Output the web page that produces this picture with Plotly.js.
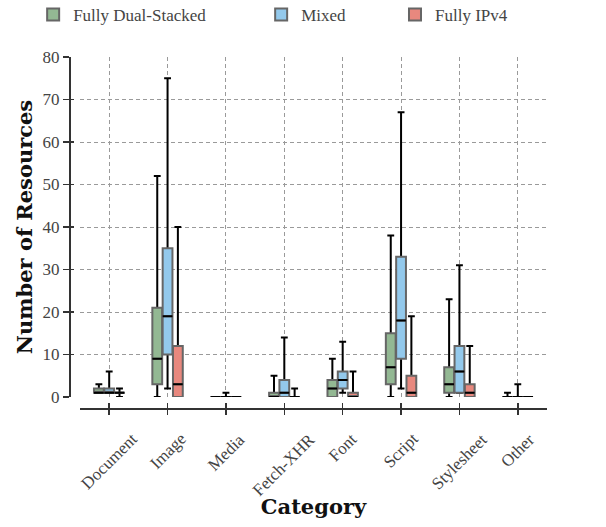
<!DOCTYPE html>
<html>
<head>
<meta charset="utf-8">
<script src="https://cdn.plot.ly/plotly-3.0.1.min.js"></script>
<style>html,body{margin:0;padding:0;background:#fff;}#chart{width:606px;height:527px;}</style>
</head>
<body>
<div id="chart"></div>
<script>
// ---- data ----
const categories = ['Document','Image','Media','Fetch-XHR','Font','Script','Stylesheet','Other'];
const seriesNames = ['Fully Dual-Stacked','Mixed','Fully IPv4'];

const dualLower  = [1, 0, 0, 0, 0, 0, 0, 0];
const dualQ1     = [1, 3, 0, 0, 0, 3, 1, 0];
const dualMedian = [1, 9, 0, 0, 2, 7, 3, 0];
const dualQ3     = [2, 21, 0, 1, 4, 15, 7, 0];
const dualUpper  = [3, 52, 0, 5, 9, 38, 23, 1];

const mixedLower  = [1, 2, 0, 0, 1, 2, 1, 0];
const mixedQ1     = [1, 10, 0, 0, 2, 9, 1, 0];
const mixedMedian = [1, 19, 0, 1, 4, 18, 6, 0];
const mixedQ3     = [2, 35, 0, 4, 6, 33, 12, 0];
const mixedUpper  = [6, 75, 1, 14, 13, 67, 31, 3];

const v4Lower  = [0, 0, 0, 0, 0, 0, 0, 0];
const v4Q1     = [1, 0, 0, 0, 0, 0, 0, 0];
const v4Median = [1, 3, 0, 0, 0, 1, 1, 0];
const v4Q3     = [1, 12, 0, 0, 1, 5, 3, 0];
const v4Upper  = [2, 40, 0, 2, 6, 19, 12, 0];

const yTicks = [0, 10, 20, 30, 40, 50, 60, 70, 80];

// ---- styling ----
const fills = ['#93b893', '#93c9ec', '#e8887e'];
const edge = '#666666';
const serif = 'Liberation Serif, Times New Roman, serif';
const boldFont = {family: 'DejaVu Serif, serif', size: 21, color: '#111', weight: 'bold'};

const series = [
  {name: seriesNames[0], lo: dualLower, q1: dualQ1, md: dualMedian, q3: dualQ3, hi: dualUpper, legend: 'legend'},
  {name: seriesNames[1], lo: mixedLower, q1: mixedQ1, md: mixedMedian, q3: mixedQ3, hi: mixedUpper, legend: 'legend2'},
  {name: seriesNames[2], lo: v4Lower, q1: v4Q1, md: v4Median, q3: v4Q3, hi: v4Upper, legend: 'legend3'}
];

const base = {type: 'box', orientation: 'v', x: categories, xaxis: 'x', yaxis: 'y', boxpoints: false, hoverinfo: 'skip'};
const traces = [];
// whiskers (black), drawn first
series.forEach((s, i) => {
  traces.push(Object.assign({}, base, {
    name: s.name, offsetgroup: 'g' + i, showlegend: false,
    q1: s.md, median: s.md, q3: s.md, lowerfence: s.lo, upperfence: s.hi,
    line: {color: '#000', width: 2}, fillcolor: 'rgba(0,0,0,0)', whiskerwidth: 0.7
  }));
});
// boxes (gray outline, coloured fill)
series.forEach((s, i) => {
  traces.push(Object.assign({}, base, {
    name: s.name, offsetgroup: 'g' + i, showlegend: true, legend: s.legend,
    q1: s.q1, median: s.md, q3: s.q3, lowerfence: s.q1, upperfence: s.q3,
    line: {color: edge, width: 2}, fillcolor: fills[i], whiskerwidth: 0
  }));
});
// medians (black)
series.forEach((s, i) => {
  traces.push(Object.assign({}, base, {
    name: s.name, offsetgroup: 'g' + i, showlegend: false,
    q1: s.md, median: s.md, q3: s.md, lowerfence: s.md, upperfence: s.md,
    line: {color: '#000', width: 2}, fillcolor: 'rgba(0,0,0,0)', whiskerwidth: 0
  }));
});
// helper traces so the overlay tick axes exist
traces.push({type: 'scatter', x: [], y: [], xaxis: 'x', yaxis: 'y2', showlegend: false, hoverinfo: 'skip'});
traces.push({type: 'scatter', x: [], y: [], xaxis: 'x2', yaxis: 'y', showlegend: false, hoverinfo: 'skip'});

const W = 606 - 69 - 59, H = 527 - 57 - 119;
const xDomain = [11 / W, 1];
const yDomain = [11 / H, 1];
const catIdx = categories.map((c, i) => i);

const legendBase = {orientation: 'h', yanchor: 'top', xanchor: 'left', y: 1.171,
  font: {family: serif, size: 17, color: '#444'}, bgcolor: 'rgba(0,0,0,0)'};

const layout = {
  width: 606, height: 527,
  margin: {l: 69, r: 59, t: 57, b: 119, autoexpand: false},
  paper_bgcolor: '#fff', plot_bgcolor: '#fff',
  boxmode: 'group', boxgap: 0.47, boxgroupgap: 0.05,
  font: {family: serif, size: 17, color: '#444'},
  xaxis: {
    type: 'category', categoryorder: 'array', categoryarray: categories,
    range: [-0.5, 7.5], domain: xDomain, anchor: 'free', position: 0,
    showline: true, linecolor: '#333', linewidth: 1.5,
    ticks: 'outside', ticklen: 5, tickwidth: 1.5, tickcolor: '#333',
    showticklabels: false,
    showgrid: true, gridcolor: '#9a9a9a', gridwidth: 1, griddash: '4px,3px',
    zeroline: false,
    title: {text: 'Category', font: boldFont, standoff: 86}
  },
  xaxis2: {
    overlaying: 'x', type: 'linear', range: [-0.5, 7.5], anchor: 'free', position: 0,
    tickmode: 'array', tickvals: catIdx,
    ticks: 'inside', ticklen: 5, tickwidth: 1.5, tickcolor: '#333',
    showticklabels: false, showgrid: false, zeroline: false, showline: false
  },
  yaxis: {
    range: [0, 80], domain: yDomain, anchor: 'free', position: 0,
    tickmode: 'array', tickvals: yTicks,
    showline: true, linecolor: '#333', linewidth: 1.5,
    ticks: 'outside', ticklen: 6, tickwidth: 1.5, tickcolor: '#333',
    tickfont: {family: serif, size: 17, color: '#444'},
    showgrid: true, gridcolor: '#9a9a9a', gridwidth: 1, griddash: '4px,3px',
    zeroline: false,
    title: {text: 'Number of Resources', font: boldFont, standoff: 2}
  },
  yaxis2: {
    overlaying: 'y', range: [0, 80], anchor: 'free', position: 0,
    tickmode: 'array', tickvals: yTicks,
    ticks: 'inside', ticklen: 4, tickwidth: 1.5, tickcolor: '#333',
    showticklabels: false, showgrid: false, zeroline: false, showline: false
  },
  legend: Object.assign({}, legendBase, {x: -0.075}),
  legend2: Object.assign({}, legendBase, {x: 0.402}),
  legend3: Object.assign({}, legendBase, {x: 0.682}),
  annotations: categories.map(c => ({
    x: c, xref: 'x', y: -0.054, yref: 'paper', text: c, showarrow: false,
    textangle: -45, xanchor: 'center', yanchor: 'top',
    font: {family: serif, size: 17, color: '#444'}
  })),
  showlegend: true
};

Plotly.newPlot('chart', traces, layout, {displayModeBar: false, staticPlot: true});
</script>
</body>
</html>
